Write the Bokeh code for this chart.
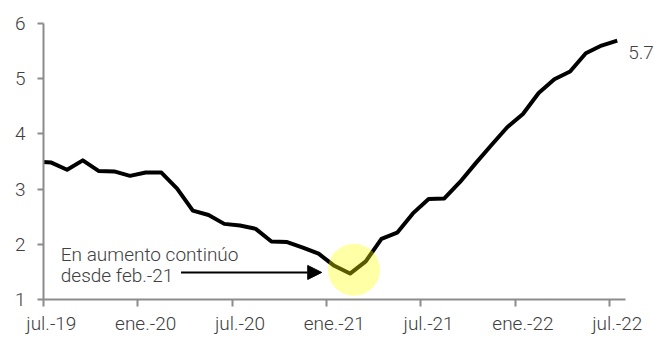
from bokeh.plotting import figure
from bokeh.models import Range1d, FixedTicker, LinearAxis, Label, Arrow, NormalHead
from bokeh.embed import file_html
from bokeh.resources import INLINE
from bokeh.core.properties import value

# ---- data ----
months = ["jul.-19", "ago.-19", "sep.-19", "oct.-19", "nov.-19", "dic.-19",
          "ene.-20", "feb.-20", "mar.-20", "abr.-20", "may.-20", "jun.-20",
          "jul.-20", "ago.-20", "sep.-20", "oct.-20", "nov.-20", "dic.-20",
          "ene.-21", "feb.-21", "mar.-21", "abr.-21", "may.-21", "jun.-21",
          "jul.-21", "ago.-21", "sep.-21", "oct.-21", "nov.-21", "dic.-21",
          "ene.-22", "feb.-22", "mar.-22", "abr.-22", "may.-22", "jun.-22",
          "jul.-22"]
values = [3.48, 3.35, 3.52, 3.33, 3.32, 3.24,
          3.30, 3.30, 3.01, 2.61, 2.53, 2.37,
          2.34, 2.28, 2.05, 2.04, 1.94, 1.83,
          1.61, 1.47, 1.69, 2.10, 2.21, 2.56,
          2.82, 2.83, 3.13, 3.47, 3.80, 4.12,
          4.36, 4.74, 4.99, 5.13, 5.46, 5.60,
          5.69]
prior_month = "jun.-19"
prior_value = 3.50
y_ticks = [1, 2, 3, 4, 5, 6]
label_every = 6
highlight_month = "feb.-21"
note_lines = ["En aumento continúo", "desde feb.-21"]

FONT = "'Roboto Light', Roboto, sans-serif"
TXT = "#404040"
AX = "#8c8c8c"

n = len(months)
xs = [-0.5] + [i + 0.5 for i in range(n)]
ys = [prior_value] + values

# frame spans to the right edge so the end label is not clipped
p = figure(width=654, height=337, output_backend="svg", toolbar_location=None,
           x_range=Range1d(0, n + 1.87), y_range=Range1d(1, 6),
           min_border_left=43, min_border_right=0, min_border_top=23, min_border_bottom=37,
           x_axis_location=None, y_axis_location=None)
p.outline_line_color = None
p.grid.visible = False
p.background_fill_color = "white"
p.border_fill_color = "white"

# y axis
ya = LinearAxis(ticker=FixedTicker(ticks=y_ticks))
ya.axis_line_color = AX
ya.axis_line_width = 2
ya.major_tick_line_color = AX
ya.major_tick_line_width = 2
ya.major_tick_in = 0
ya.major_tick_out = 6
ya.minor_tick_line_color = None
ya.major_label_standoff = 12
ya.major_label_text_font = FONT
ya.major_label_text_font_size = "19px"
ya.major_label_text_color = TXT
p.add_layout(ya, "left")

# x axis: tick marks at month boundaries
xa = LinearAxis(ticker=FixedTicker(ticks=list(range(0, n, label_every))), bounds=(0, n))
xa.axis_line_color = AX
xa.axis_line_width = 2
xa.major_tick_line_color = AX
xa.major_tick_line_width = 2
xa.major_tick_in = 0
xa.major_tick_out = 7
xa.minor_tick_line_color = None
xa.major_label_text_font_size = "0px"
xa.major_label_standoff = 0
xa.major_label_overrides = {t: "" for t in range(0, n, label_every)}
p.add_layout(xa, "below")

# x axis labels at month centres
lab_ticks = [i + 0.5 for i in range(0, n, label_every)]
xl = LinearAxis(ticker=FixedTicker(ticks=lab_ticks))
xl.axis_line_color = None
xl.major_tick_line_color = None
xl.minor_tick_line_color = None
xl.major_tick_out = 0
xl.major_tick_in = 0
xl.major_label_standoff = 5
xl.major_label_text_font = FONT
xl.major_label_text_font_size = "19px"
xl.major_label_text_color = TXT
xl.major_label_overrides = {i + 0.5: months[i] for i in range(0, n, label_every)}
p.add_layout(xl, "below")

# line
p.line(xs, ys, line_color="black", line_width=4, line_join="round")

# highlight circle
hi = months.index(highlight_month)
p.scatter([hi + 0.75], [values[hi] + 0.07], size=52, fill_color="#FFFF00", fill_alpha=0.35, line_color=None)

# annotation text
p.text([1.1, 1.1], [1.81, 1.43], text=note_lines, text_font=value(FONT),
       text_font_size="19px", text_color=TXT, text_baseline="alphabetic", text_align="left")

p.add_layout(Arrow(end=NormalHead(size=14, fill_color="black", line_color="black"),
                   x_start=8.75, y_start=1.49, x_end=17.7, y_end=1.49,
                   line_color="black", line_width=2))

# end label
p.add_layout(Label(x=n - 0.5, y=values[-1], text=f"{values[-1]:.1f}", x_offset=11, y_offset=-12,
                   text_font=FONT, text_font_size="19px", text_color=TXT, text_baseline="middle"))

open("out.html", "w").write(file_html(p, INLINE))
